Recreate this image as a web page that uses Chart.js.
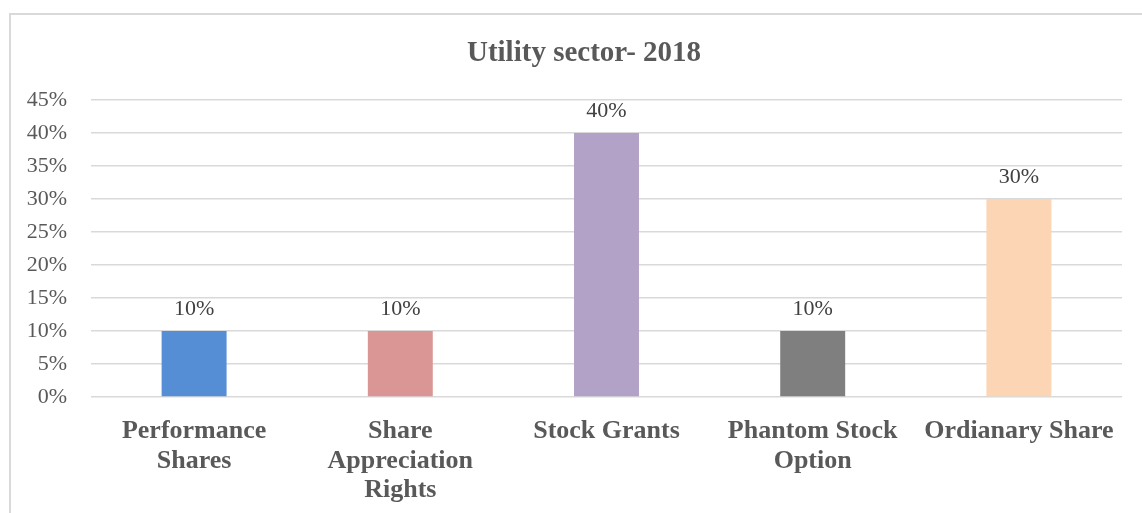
<!DOCTYPE html>
<html>
<head>
<meta charset="utf-8">
<script src="https://cdn.jsdelivr.net/npm/chart.js@4/dist/chart.umd.min.js"></script>
<style>
  html, body { margin: 0; padding: 0; background: #fff; overflow: hidden; }
  #frame { position: absolute; left: 9px; top: 13px; width: 1200px; height: 600px; border: 2px solid #d9d9d9; box-sizing: border-box; }
  #wrap { position: absolute; left: 0; top: 0; width: 1142px; height: 513px; }
</style>
</head>
<body>
<div id="frame"></div>
<div id="wrap"><canvas id="c" width="1142" height="513"></canvas></div>
<script>
const chartTitle = "Utility sector- 2018";
const categories = [
  ["Performance", "Shares"],
  ["Share", "Appreciation", "Rights"],
  "Stock Grants",
  ["Phantom Stock", "Option"],
  "Ordianary Share"
];
const shareValues = [10, 10, 40, 10, 30];
const barColors = ["#558ed5", "#d99694", "#b3a2c7", "#7f7f7f", "#fcd5b5"];
const yTicks = [0, 5, 10, 15, 20, 25, 30, 35, 40, 45];

const serif = "'Liberation Serif', 'Times New Roman', serif";

// Title centred over the bordered frame rather than the canvas
const frameTitle = {
  id: 'frameTitle',
  afterDraw(chart) {
    const ctx = chart.ctx;
    ctx.save();
    ctx.font = "bold 29px " + serif;
    ctx.fillStyle = "#595959";
    ctx.textAlign = "center";
    ctx.textBaseline = "alphabetic";
    ctx.fillText(chartTitle, 584, 61);
    ctx.restore();
  }
};

// Writes each bar's percentage just above it
const valueLabels = {
  id: 'valueLabels',
  afterDatasetsDraw(chart) {
    const ctx = chart.ctx;
    const meta = chart.getDatasetMeta(0);
    ctx.save();
    ctx.font = "22px " + serif;
    ctx.fillStyle = "#404040";
    ctx.textAlign = "center";
    ctx.textBaseline = "alphabetic";
    meta.data.forEach((bar, i) => {
      ctx.fillText(shareValues[i] + "%", bar.x, bar.y - 16);
    });
    ctx.restore();
  }
};

new Chart(document.getElementById('c'), {
  type: 'bar',
  data: {
    labels: categories,
    datasets: [{
      data: shareValues,
      backgroundColor: barColors,
      borderWidth: 0,
      categoryPercentage: 1,
      barPercentage: 0.315
    }]
  },
  options: {
    responsive: false,
    animation: false,
    layout: { padding: { left: 0, right: 20, top: 100, bottom: 0 } },
    plugins: {
      legend: { display: false },
      tooltip: { enabled: false },
      title: { display: false }
    },
    scales: {
      x: {
        grid: { display: false, drawTicks: false },
        border: { display: false },
        ticks: {
          color: "#595959",
          font: { family: serif, size: 26, weight: 'bold', lineHeight: 1.15 },
          padding: 19,
          maxRotation: 0,
          autoSkip: false
        },
        afterFit(scale) { scale.height = 116; }
      },
      y: {
        min: 0,
        max: 45,
        afterBuildTicks(scale) { scale.ticks = yTicks.map(v => ({ value: v })); },
        grid: { color: "#d9d9d9", lineWidth: 1.5, drawTicks: false },
        border: { display: false },
        ticks: {
          color: "#595959",
          font: { family: serif, size: 22 },
          padding: 24,
          callback: v => v + "%"
        },
        afterFit(scale) { scale.width = 91; }
      }
    }
  },
  plugins: [valueLabels, frameTitle]
});
</script>
</body>
</html>
